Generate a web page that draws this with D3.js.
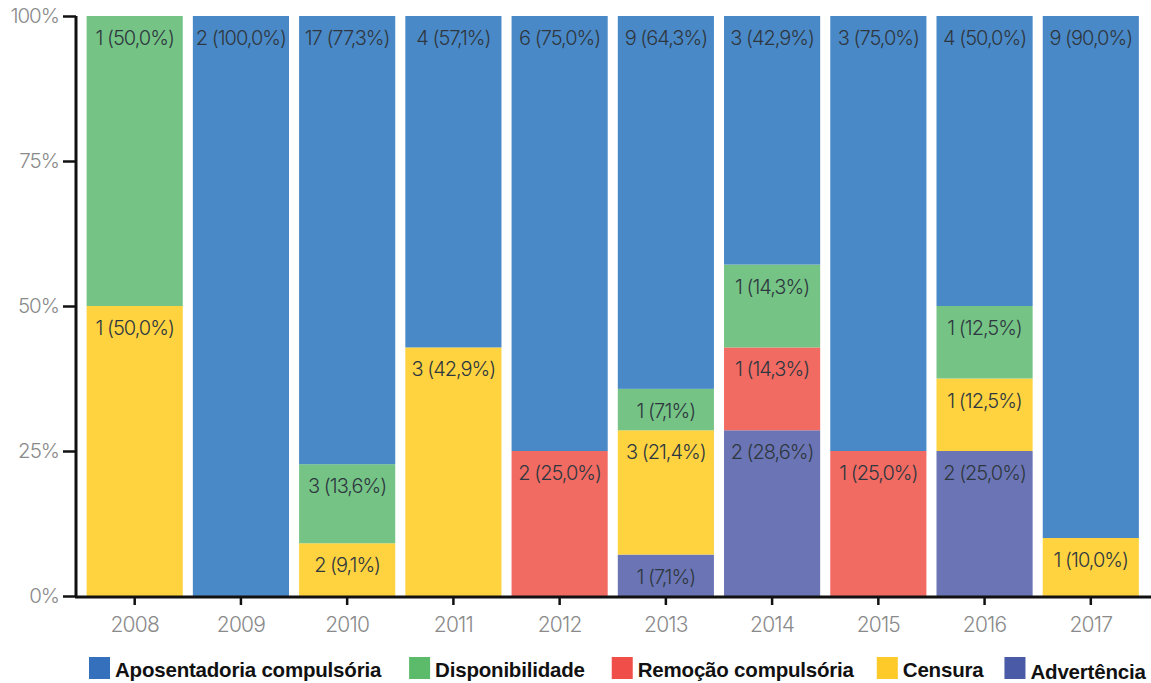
<!DOCTYPE html>
<html><head><meta charset="utf-8">
<script src="https://cdn.jsdelivr.net/npm/d3@7"></script>
<style>
body{margin:0;background:#fff;}
svg{display:block;}
</style></head>
<body>
<svg id="c" width="1151" height="683"></svg>
<script>
const years = ["2008","2009","2010","2011","2012","2013","2014","2015","2016","2017"];
// stack order bottom -> top
const seriesNames = ["Advertência","Censura","Remoção compulsória","Disponibilidade","Aposentadoria compulsória"];
const advertencia   = [0,0,0,0,0,1,2,0,2,0];
const censura       = [1,0,2,3,0,3,0,0,1,1];
const remocao       = [0,0,0,0,2,0,1,1,0,0];
const disponibilidade=[1,0,3,0,0,1,1,0,1,0];
const aposentadoria = [0,2,17,4,6,9,3,3,4,9];
const yTicks = [0,0.25,0.5,0.75,1];
const legendOrder = ["Aposentadoria compulsória","Disponibilidade","Remoção compulsória","Censura","Advertência"];

const barColors = {"Aposentadoria compulsória":"#4a89c7","Disponibilidade":"#75c485","Remoção compulsória":"#f26b62","Censura":"#fed33f","Advertência":"#6b75b5"};
const legendColors = {"Aposentadoria compulsória":"#3570bd","Disponibilidade":"#5cbb6b","Remoção compulsória":"#f04e48","Censura":"#fdca29","Advertência":"#4a5aa6"};

const seriesVals = [advertencia,censura,remocao,disponibilidade,aposentadoria];
const rows = years.map((y,i)=>{
  const r={year:y}; let tot=0;
  seriesNames.forEach((s,k)=>{r[s]=seriesVals[k][i]; tot+=seriesVals[k][i];});
  r.total=tot;
  seriesNames.forEach(s=>{r[s+"_p"]=r[s]/tot;});
  return r;
});

const svg = d3.select("#c");
const x = d3.scaleBand().domain(years).range([76,1149.5]).paddingInner(0.095).paddingOuter(0.1);
const y = d3.scaleLinear().domain([0,1]).range([596,16]);

const stack = d3.stack().keys(seriesNames.map(s=>s+"_p"));
const layers = stack(rows);

const fmt = v => (v*100).toFixed(1).replace(".",",")+"%";
const font = "Inter, 'Noto Sans', sans-serif";

layers.forEach((layer,k)=>{
  const name = seriesNames[k];
  const g = svg.append("g");
  layer.forEach((d,i)=>{
    const r = rows[i];
    if(r[name]===0) return;
    g.append("rect")
      .attr("x",x(r.year)).attr("width",x.bandwidth())
      .attr("y",y(d[1])).attr("height",y(d[0])-y(d[1]))
      .attr("fill",barColors[name]);
    g.append("text")
      .attr("x",x(r.year)+x.bandwidth()/2)
      .attr("y",y(d[1])+29)
      .attr("text-anchor","middle")
      .attr("font-family",font).attr("font-weight",300)
      .attr("font-size","20px").attr("letter-spacing","-1px")
      .attr("fill","#2e3740")
      .text(r[name]+" ("+fmt(r[name+"_p"])+")");
  });
});

// Y axis
const yAxis = svg.append("g").attr("transform","translate(76,0)")
  .call(d3.axisLeft(y).tickValues(yTicks).tickFormat(d=>Math.round(d*100)+"%").tickSize(13).tickPadding(4));
yAxis.select(".domain").attr("stroke","#111").attr("stroke-width",3).attr("d","M0,16V597");
yAxis.selectAll(".tick line").attr("stroke","#111").attr("stroke-width",2.5);
yAxis.selectAll(".tick text").attr("fill","#8a8a8a").attr("font-family",font).attr("font-weight",300).attr("font-size","20.5px").attr("letter-spacing","-1px").attr("dy","0.3em");

// X axis
const xAxis = svg.append("g").attr("transform","translate(0,597)")
  .call(d3.axisBottom(x).tickSize(8).tickPadding(12));
xAxis.select(".domain").attr("stroke","#111").attr("stroke-width",3).attr("d","M75,0H1151");
xAxis.selectAll(".tick line").attr("stroke","#111").attr("stroke-width",2.5);
xAxis.selectAll(".tick text").attr("fill","#8a8a8a").attr("font-family",font).attr("font-weight",300).attr("font-size","21px").attr("letter-spacing","-0.8px");

// Legend
const leg = svg.append("g");
const legGaps = [28,27,23,21];
let lx = 89;
legendOrder.forEach((name,i)=>{
  const g = leg.append("g").attr("transform",`translate(${lx},657)`);
  g.append("rect").attr("width",21).attr("height",22).attr("fill",legendColors[name]);
  const t = g.append("text").attr("x",26).attr("y", name==="Advertência"?21.5:20)
    .attr("font-family","'Liberation Sans', Arial, sans-serif").attr("font-weight",700)
    .attr("font-size","20.5px").attr("fill","#111").attr("letter-spacing","-0.2px").text(name);
  const w = t.node().getComputedTextLength();
  lx += 26 + w + (legGaps[i]||0);
});
</script>
</body></html>
